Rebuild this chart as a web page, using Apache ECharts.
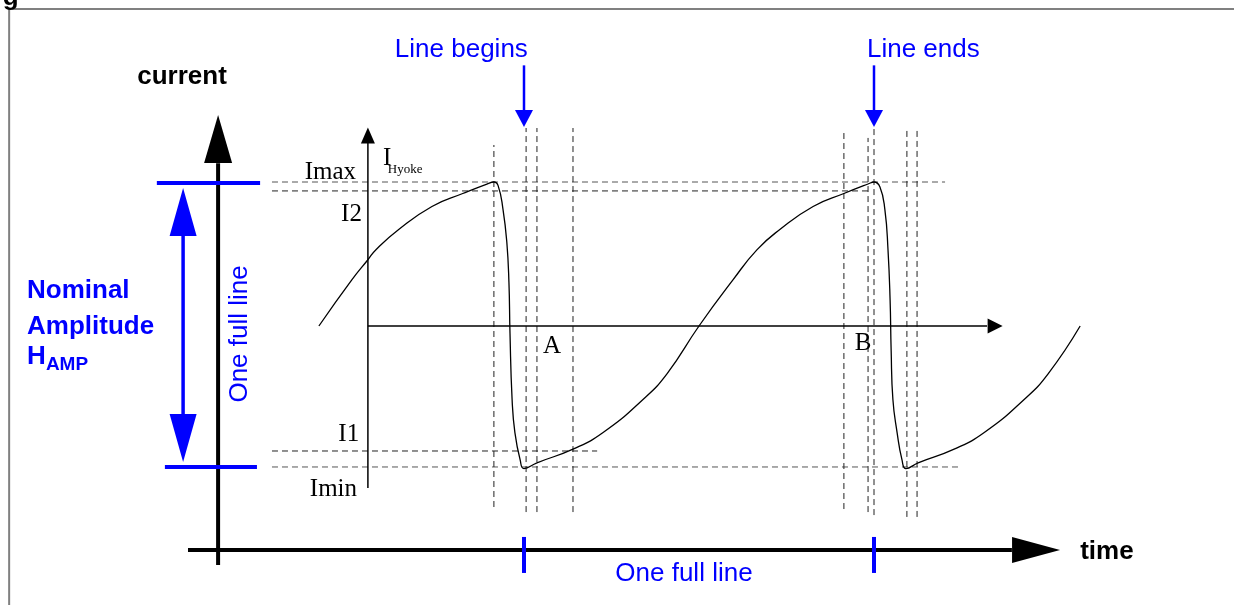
<!DOCTYPE html>
<html>
<head>
<meta charset="utf-8">
<title>Line current</title>
<script src="https://cdn.jsdelivr.net/npm/echarts@6/dist/echarts.min.js"></script>
<style>
  html, body { margin: 0; padding: 0; background: #fff; }
  #chart { width: 1234px; height: 605px; }
</style>
</head>
<body>
<div id="chart"></div>
<script>
// time: 0 = line begins, 100 = line ends; current: 0 = zero line, 1 = Imax
const waveT = [-58.6, -49.2, -44.6, -42.3, -35.8, -26.3, -17.5, -10.6, -8.6,
  -7.4, -6, -4.9, -4.3, -4, -3.4, -2.6, -1.1, 0,
  3.7, 14, 22.6, 34, 40.9, 50, 59.7, 66.6, 73.1, 82.6, 91.4, 98.3, 100,
  101.7, 103.1, 104, 104.6, 104.9, 105.4, 106.6, 108, 109.1,
  112.6, 122.9, 131.5, 142.9, 149.8, 158.9];
const waveI = [0, 0.32, 0.46, 0.53, 0.67, 0.83, 0.92, 0.986, 1.0,
  0.975, 0.81, 0.58, 0.3, -0.05, -0.51, -0.74, -0.93, -0.99,
  -0.95, -0.855, -0.74, -0.51, -0.33, 0, 0.32, 0.53, 0.67, 0.83, 0.92, 0.986, 1.0,
  0.965, 0.81, 0.53, 0.18, -0.17, -0.51, -0.74, -0.93, -0.99,
  -0.95, -0.855, -0.74, -0.51, -0.33, 0];

// reference levels
const levelNames = ['Imax', 'I2', 'I1', 'Imin'];
const levelI = [1.0, 0.938, -0.868, -0.979];
const levelEndT = [120.3, 98.3, 20.9, 125.1];
const levelStartT = -72;

// dashed time markers
const markT = [-8.6, 0.6, 3.7, 14, 91.4, 98.3, 100, 109.4, 112.3];
const markTop = [1.257, 1.375, 1.375, 1.375, 1.347, 1.306, 1.375, 1.375, 1.375];
const markBottom = [-1.257, -1.292, -1.292, -1.292, -1.271, -1.292, -1.313, -1.326, -1.326];

const lineBegins = 0;
const lineEnds = 100;

const SANS = 'Liberation Sans';
const SERIF = 'Liberation Serif';
const BLUE = '#0000ff';

function seg(pts, color, width, type) {
  return {
    type: 'line', data: pts, symbol: 'none', silent: true, clip: false,
    lineStyle: { color: color, width: width, type: type || 'solid' }
  };
}

function head(t, i, size, rot, color) {
  return {
    type: 'scatter', data: [[t, i]], symbol: 'triangle', symbolSize: size,
    symbolRotate: rot, silent: true, z: 4, itemStyle: { color: color, opacity: 1 }
  };
}

function text(str, t, i, o) {
  return {
    type: 'scatter', data: [[t, i]], symbolSize: 0, silent: true, z: 6, clip: false,
    itemStyle: { opacity: 1 },
    label: Object.assign({
      show: true, position: 'inside', formatter: str, color: '#000', opacity: 1,
      fontFamily: SANS, fontSize: 26, align: 'center', verticalAlign: 'middle',
      offset: [0, 2]
    }, o)
  };
}

const series = [];

// frame
series.push(seg([[-147.1, -1.9375], [-147.1, 2.201], [202.857, 2.201]], '#808080', 2));
series.push(text('g', -148.9, 2.26, { fontWeight: 'bold', align: 'left', offset: [0, -3] }));

// dashed guides
levelI.forEach((v, k) => {
  series.push(seg([[levelStartT, v], [levelEndT[k], v]], k === 0 || k === 3 ? '#555' : '#222', 1, [6, 4]));
});
markT.forEach((t, k) => {
  series.push(seg([[t, markBottom[k]], [t, markTop[k]]], '#222', 1, [6, 4]));
});

// inner axes
series.push(seg([[-44.6, -1.125], [-44.6, 1.27]], '#000', 1.5));
series.push(head(-44.6, 1.323, [14, 16], 0, '#000'));
series.push(seg([[-44.6, 0], [132.3, 0]], '#000', 1.5));
series.push(head(134.6, 0, [15, 15], -90, '#000'));

// waveform
series.push({
  type: 'line', data: waveT.map((t, k) => [t, waveI[k]]), symbol: 'none', silent: true,
  smooth: 0.5, z: 3,
  lineStyle: { color: '#000', width: 1.3 }
});

// outer axes
series.push(seg([[-87.4, -1.66], [-87.4, 1.13]], '#000', 4));
series.push(head(-87.4, 1.299, [28, 48], 0, '#000'));
series.push(seg([[-96, -1.556], [139.4, -1.556]], '#000', 4));
series.push(head(146.3, -1.556, [26, 48], -90, '#000'));

// amplitude marker
series.push(seg([[-104.9, 0.993], [-75.4, 0.993]], BLUE, 4));
series.push(seg([[-102.6, -0.979], [-76.3, -0.979]], BLUE, 4));
series.push(seg([[-97.4, 0.625], [-97.4, -0.611]], BLUE, 3.5));
series.push(head(-97.4, 0.792, [27, 48], 0, BLUE));
series.push(head(-97.4, -0.778, [27, 48], 180, BLUE));

// line begin / end markers
[lineBegins, lineEnds].forEach(t => {
  series.push(seg([[t, -1.465], [t, -1.715]], BLUE, 4));
  series.push(seg([[t, 1.81], [t, 1.5]], BLUE, 2.5));
  series.push(head(t, 1.441, [18, 17], 180, BLUE));
});

// texts
series.push(text('current', -97.7, 1.743, { fontWeight: 'bold' }));
series.push(text('time', 158.9, -1.556, { fontWeight: 'bold', align: 'left' }));
series.push(text('Line begins', -17.9, 1.93, { color: BLUE }));
series.push(text('Line ends', 114.1, 1.93, { color: BLUE }));
series.push(text('One full line', 45.7, -1.708, { color: BLUE }));
series.push(text('One full line', -81.2, -0.055, { color: BLUE, rotate: 90, offset: [0, 0] }));
series.push(text('Nominal', -142, 0.257, { color: BLUE, fontWeight: 'bold', align: 'left' }));
series.push(text('Amplitude', -142, 0.01, { color: BLUE, fontWeight: 'bold', align: 'left' }));
series.push(text('H', -142, -0.201, { color: BLUE, fontWeight: 'bold', align: 'left' }));
series.push(text('AMP', -136.6, -0.257, { color: BLUE, fontWeight: 'bold', align: 'left', fontSize: 19 }));

const levelLabelT = [-48, -46.3, -47.1, -47.7];
const levelLabelI = [1.077, 0.788, -0.736, -1.12];
levelNames.forEach((n, k) => {
  series.push(text(n, levelLabelT[k], levelLabelI[k], { fontFamily: SERIF, fontSize: 25, align: 'right' }));
});
series.push(text('I', -40.3, 1.18, { fontFamily: SERIF, fontSize: 25, align: 'left' }));
series.push(text('Hyoke', -38.9, 1.10, { fontFamily: SERIF, fontSize: 13, align: 'left' }));
series.push(text('A', 8, -0.13, { fontFamily: SERIF, fontSize: 25 }));
series.push(text('B', 96.9, -0.104, { fontFamily: SERIF, fontSize: 25 }));

const chart = echarts.init(document.getElementById('chart'));
chart.setOption({
  animation: false,
  backgroundColor: '#fff',
  grid: { left: 0, right: 0, top: 0, bottom: 0 },
  xAxis: { type: 'value', min: -149.714, max: 202.857, show: false },
  yAxis: { type: 'value', min: -1.9375, max: 2.2639, show: false },
  series: series
});
</script>
</body>
</html>
